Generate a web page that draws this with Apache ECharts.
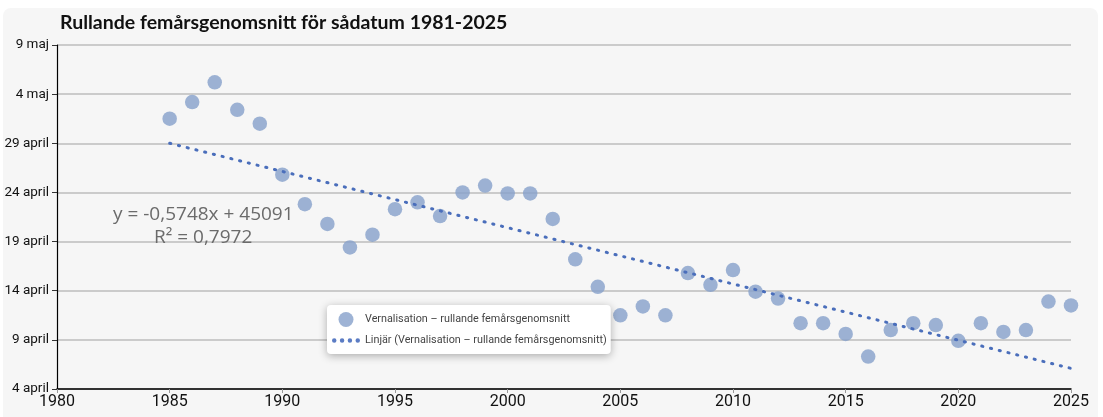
<!DOCTYPE html>
<html>
<head>
<meta charset="utf-8">
<script src="https://cdn.jsdelivr.net/npm/echarts@6/dist/echarts.min.js"></script>
<style>
html,body{margin:0;padding:0;background:#ffffff;}
#chart{width:1103px;height:417px;}
</style>
</head>
<body>
<div id="chart"></div>
<script>
// Years (x) and five-year rolling mean sowing date, expressed as days after 4 April
const years = [1985,1986,1987,1988,1989,1990,1991,1992,1993,1994,1995,1996,1997,1998,1999,2000,2001,2002,2003,2004,2005,2006,2007,2008,2009,2010,2011,2012,2013,2014,2015,2016,2017,2018,2019,2020,2021,2022,2023,2024,2025];
const sowOffset = [27.5,29.2,31.2,28.4,27.0,21.8,18.8,16.8,14.4,15.7,18.3,19.0,17.6,20.0,20.7,19.9,19.9,17.3,13.2,10.4,7.5,8.4,7.5,11.8,10.6,12.1,9.9,9.2,6.7,6.7,5.6,3.3,6.0,6.7,6.5,4.9,6.7,5.8,6.0,8.9,8.5];
// Linear trend endpoints
const trendYears = [1985, 2025];
const trendOffset = [25.0, 2.1];
// Axis tick labels
const yTickLabels = ['4 april','9 april','14 april','19 april','24 april','29 april','4 maj','9 maj'];
const xTicks = [1980,1985,1990,1995,2000,2005,2010,2015,2020,2025];

const titleText = 'Rullande femårsgenomsnitt för sådatum 1981-2025';
const seriesName = 'Vernalisation – rullande femårsgenomsnitt';
const trendName = 'Linjär (Vernalisation – rullande femårsgenomsnitt)';
const eqLine1 = 'y = -0,5748x + 45091';
const eqLine2 = 'R² = 0,7972';

const narrow = "Roboto, 'Liberation Sans', sans-serif";
const dotsIcon = 'path://M0,2a2,2 0 1,0 4,0a2,2 0 1,0 -4,0z M7,2a2,2 0 1,0 4,0a2,2 0 1,0 -4,0z M14,2a2,2 0 1,0 4,0a2,2 0 1,0 -4,0z M21,2a2,2 0 1,0 4,0a2,2 0 1,0 -4,0z';

const chart = echarts.init(document.getElementById('chart'), null, {renderer:'canvas'});
const option = {
  animation: false,
  backgroundColor: 'transparent',
  title: {
    text: titleText,
    left: 55, top: 8,
    textStyle: {fontFamily: 'Lato', fontWeight: 'bold', fontSize: 19.5, color: '#111'}
  },
  graphic: [
    {type:'rect', z:-10, silent:true, shape:{x:3, y:8, width:1095, height:430, r:8}, style:{fill:'#f6f6f6'}},
    {type:'text', z:10, left:113, top:205, style:{text:eqLine1, font:"19px 'Open Sans', sans-serif", fill:'#6b6b6b'}},
    {type:'text', z:10, left:154, top:228, style:{text:eqLine2, font:"19px 'Open Sans', sans-serif", fill:'#6b6b6b'}}
  ],
  grid: {left:57, right:32, top:45, bottom:28, containLabel:false, outerBoundsMode:'none'},
  legend: {
    orient:'vertical', left:327, top:305,
    backgroundColor:'#ffffff', borderRadius:4,
    shadowBlur:8, shadowColor:'rgba(0,0,0,0.3)', shadowOffsetY:2,
    padding:[7,4,8,5], itemGap:8, itemWidth:28, itemHeight:15,
    textStyle:{fontFamily:narrow, fontSize:10.8, color:'#444'},
    data:[{name:seriesName, icon:'circle'}, {name:trendName, icon:dotsIcon}]
  },
  xAxis: {
    type:'value', min:1980, max:2025, interval:5,
    axisLine:{show:true, lineStyle:{color:'#000', width:1.5}},
    axisTick:{show:true, length:4, lineStyle:{color:'#999'}},
    splitLine:{show:false},
    axisLabel:{fontFamily:narrow, fontSize:16, color:'#111', margin:5,
      formatter: v => xTicks.includes(v) ? String(v) : ''}
  },
  yAxis: {
    type:'value', min:0, max:35, interval:5,
    axisLine:{show:true, lineStyle:{color:'#000', width:1.2}},
    axisTick:{show:true, length:5, lineStyle:{color:'#333'}},
    splitLine:{show:true, lineStyle:{color:'#bdbdbd', width:1.5}},
    axisLabel:{fontFamily:narrow, fontSize:13.5, color:'#111', margin:8,
      formatter: v => yTickLabels[Math.round(v/5)] || ''}
  },
  series: [
    {
      name: seriesName, type:'scatter', symbolSize:14.5, z:3,
      itemStyle:{color:'#86a0cb'},
      data: years.map((y,i)=>[y, sowOffset[i]])
    },
    {
      name: trendName, type:'line', symbol:'none', z:4,
      itemStyle:{color:'#5b7cc4'},
      lineStyle:{color:'#4a6ebb', width:3, type:[1.2,7.8], cap:'round'},
      data: trendYears.map((y,i)=>[y, trendOffset[i]])
    }
  ]
};
chart.setOption(option);
</script>
</body>
</html>
